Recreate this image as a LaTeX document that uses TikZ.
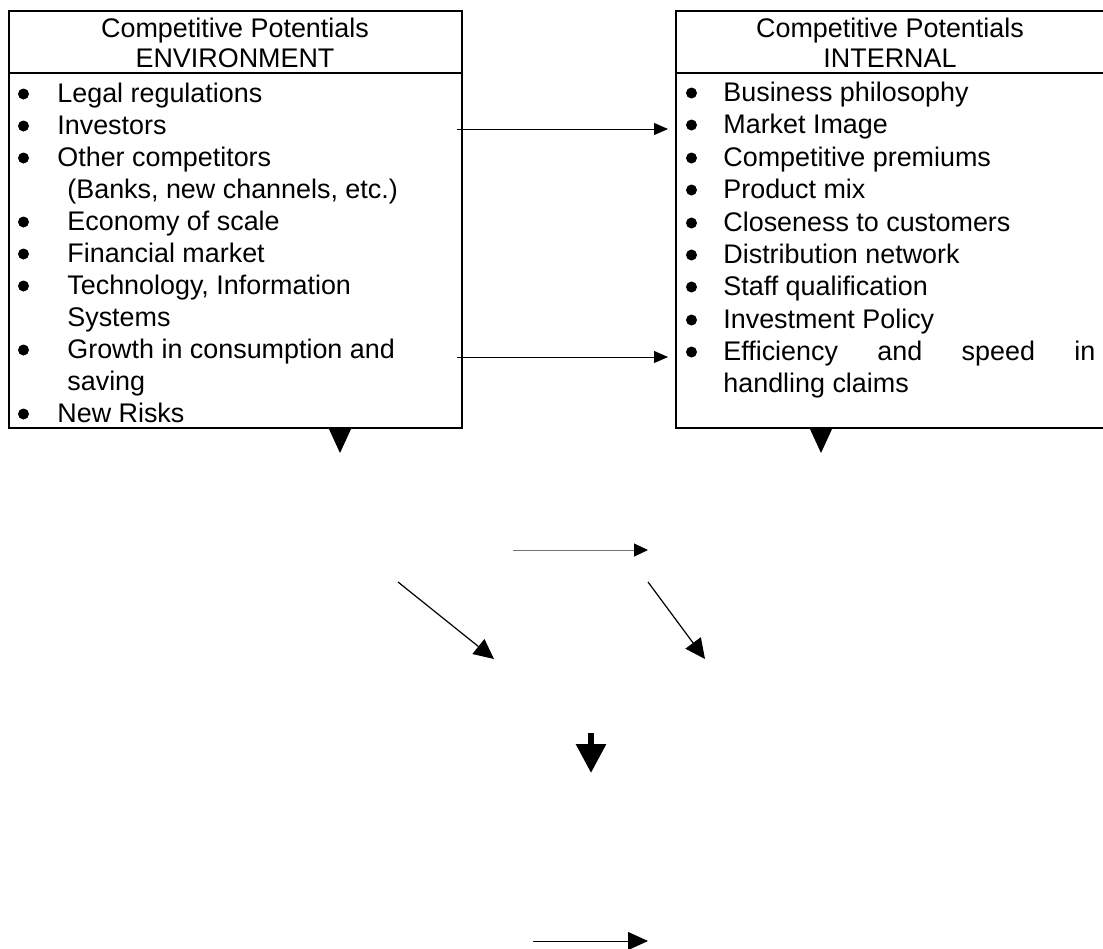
\documentclass[tikz,border=0pt]{standalone}
\usepackage{fontspec}
\setmainfont{Liberation Sans}
\usetikzlibrary{arrows.meta}
\tikzset{
	dot/.style={circle, fill=black, inner sep=0pt, minimum size=5.5pt},
	txt/.style={anchor=base west, inner sep=0pt},
	title/.style={anchor=base, inner sep=0pt},
	boxline/.style={line width=1pt},
	thinarrow/.style={line width=0.5pt, -{Triangle[length=7pt, width=6pt]}},
	slantarrow/.style={line width=0.6pt, -{Triangle[length=10pt, width=9.5pt]}},
	fatarrow/.style={line width=3pt, -{Triangle[length=14.5pt, width=14.5pt]}}
}

\begin{document}
\begin{tikzpicture}[x=0.5pt, y=-0.5pt, font=\fontsize{13.45pt}{16pt}\selectfont]
		\useasboundingbox (0,0) rectangle (1103,948);
		%%%%% ENVIRONMENT BOX %%%%%
		\draw[boxline] (9,11) rectangle (462,428);
		\draw[boxline] (9,73) -- (462,73);
		\node[title] (envtitle) at (235,37) {Competitive Potentials};
		\node[title] (envsub) at (235,67) {ENVIRONMENT};
		
		\node[txt] (env1) at (57,102) {Legal regulations};
		\node[txt] (env2) at (57,134) {Investors};
		\node[txt] (env3) at (57,166) {Other competitors};
		\node[txt] (env3b) at (67,198) {(Banks, new channels, etc.)};
		\node[txt] (env4) at (67,230) {Economy of scale};
		\node[txt] (env5) at (67,262) {Financial market};
		\node[txt] (env6) at (67,294) {Technology, Information};
		\node[txt] (env6b) at (67,326) {Systems};
		\node[txt] (env7) at (67,358) {Growth in consumption and};
		\node[txt] (env7b) at (67,390) {saving};
		\node[txt] (env8) at (57,422) {New Risks};
		\foreach \y in {94,126,158,222,254,286,350,414}
			\node[dot] (envdot\y) at (23.5,\y) {};
		
		%%%%% INTERNAL BOX %%%%%
		\draw[boxline] (676,11) rectangle (1112,428);
		\draw[boxline] (676,73) -- (1112,73);
		\node[title] (inttitle) at (890,37) {Competitive Potentials};
		\node[title] (intsub) at (890,67) {INTERNAL};
		
		\node[txt] (int1) at (723,101) {Business philosophy};
		\node[txt] (int2) at (723,133) {Market Image};
		\node[txt] (int3) at (723,166) {Competitive premiums};
		\node[txt] (int4) at (723,198) {Product mix};
		\node[txt] (int5) at (723,231) {Closeness to customers};
		\node[txt] (int6) at (723,263) {Distribution network};
		\node[txt] (int7) at (723,295) {Staff qualification};
		\node[txt] (int8) at (723,328) {Investment Policy};
		\node[txt] (int9) at (723,360) {\makebox[186pt][s]{Efficiency and speed in}};
		\node[txt] (int9b) at (723,392) {handling claims};
		\foreach \y in {93,125,158,190,223,255,287,320,352}
			\node[dot] (intdot\y) at (691.5,\y) {};
		
		%%%%% ARROWS %%%%%
		\coordinate (invout) at (457,129);
		\coordinate (invin) at (668,129);
		\coordinate (growout) at (457,357);
		\coordinate (growin) at (668,357);
		\draw[thinarrow] (invout) -- (invin);
		\draw[thinarrow] (growout) -- (growin);
		
		\fill (328.5,428) -- (351.5,428) -- (340,453) -- cycle;
		\fill (809.5,428) -- (832.5,428) -- (821,453) -- cycle;
		
		\coordinate (mida) at (513,550);
		\coordinate (midb) at (648,550);
		\draw[thinarrow, black!55, -{Triangle[length=7pt, width=6.5pt, black]}] (mida) -- (midb);
		
		\coordinate (lefta) at (398,582);
		\coordinate (leftb) at (494,659);
		\coordinate (righta) at (648,582);
		\coordinate (rightb) at (705,659);
		\draw[slantarrow] (lefta) -- (leftb);
		\draw[slantarrow] (righta) -- (rightb);
		
		\coordinate (downa) at (591,733);
		\coordinate (downb) at (591,773);
		\draw[fatarrow] (downa) -- (downb);
		
		\coordinate (lasta) at (533,941);
		\coordinate (lastb) at (648,941);
		\draw[line width=0.5pt, -{Triangle[length=10pt, width=9pt]}] (lasta) -- (lastb);
		%%%%% END %%%%%
	\end{tikzpicture}
\end{document}
